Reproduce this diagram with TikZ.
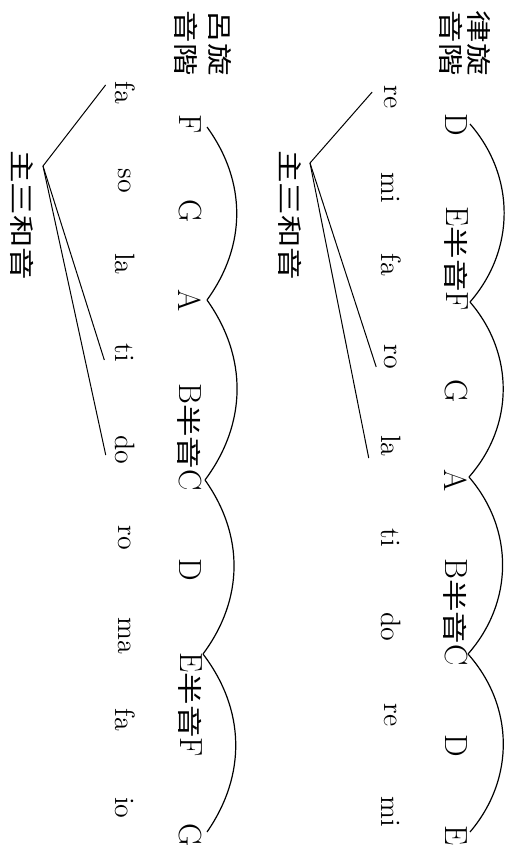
\documentclass[tikz,border=0pt]{standalone}
\usepackage{fontspec}
\usepackage{graphicx}
\usepackage{tikz}
\newfontfamily\cjk{Noto Sans CJK TC}
% wide CJK glyphs, as printed
\newcommand{\hz}[1]{{\cjk\fontsize{12.5}{14}\selectfont\scalebox{1.3}[1]{#1}}}
\tikzset{
    note/.style={rotate=-90, inner sep=1pt, font=\fontsize{16}{18}\selectfont},
    sol/.style={rotate=-90, inner sep=1pt, font=\fontsize{14}{16}\selectfont},
    tag/.style={rotate=-90, align=center, inner sep=1pt, font=\fontsize{12.5}{14}\selectfont},
    bowline/.style={line width=0.6pt},
    tieline/.style={line width=0.5pt}
}

\begin{document}
\begin{tikzpicture}[x=0.5pt,y=-0.5pt]
    \useasboundingbox (0,0) rectangle (508,848);

    % Upper scale
    \node[tag] (utag) at (465,43) {\hz{律旋}\\\hz{音階}};
    \node[note] (uD1) at (456,125) {D};
    \node[note] (uEF) at (456,259) {E\hz{半音}F};
    \node[note] (uG) at (456,391) {G};
    \node[note] (uA) at (456,481) {A};
    \node[note] (uBC) at (456,612) {B\hz{半音}C};
    \node[note] (uD2) at (456,746) {D};
    \node[note] (uE) at (456,836) {E};

    % Upper arcs
    \coordinate (u1) at (470,124);
    \coordinate (u2) at (470,302);
    \coordinate (u3) at (469,477);
    \coordinate (u4) at (468,654);
    \coordinate (u5) at (470,832);
    \foreach \a/\b in {1/2,2/3,3/4,4/5}
        \draw[bowline] (u\a) to[bend left=41] (u\b);

    % Upper syllables
    \foreach \s/\y [count=\i] in {re/97,mi/188,fa/265,ro/357,la/446,ti/538,do/627,re/715,mi/812}
        \node[sol] (us\i) at (391,\y) {\s};

    % Upper triad
    \node[tag] (uchord) at (290,215) {\hz{主三和音}};
    \coordinate (uv) at (310,163);
    \draw[tieline] ([xshift=-5pt,yshift=2.5pt]us1.south) -- (uv) -- ([xshift=-3pt,yshift=-5pt]us4.south);
    \draw[tieline] (uv) -- ([xshift=-5pt,yshift=-6pt]us5.south);

    % Lower scale
    \node[tag] (ltag) at (203,43) {\hz{呂旋}\\[3pt]\hz{音階}};
    \node[note] (lF1) at (190,124) {F};
    \node[note] (lG1) at (190,211) {G};
    \node[note] (lA) at (190,301) {A};
    \node[note] (lBC) at (190,437) {B\hz{半音}C};
    \node[note] (lD) at (190,570) {D};
    \node[note] (lEF) at (190,705) {E\hz{半音}F};
    \node[note] (lG2) at (190,835) {G};

    % Lower arcs
    \coordinate (l1) at (207,127);
    \coordinate (l2) at (207,300);
    \coordinate (l3) at (205,480);
    \coordinate (l4) at (203,654);
    \coordinate (l5) at (207,832);
    \foreach \a/\b in {1/2,2/3,3/4,4/5}
        \draw[bowline] (l\a) to[bend left=36] (l\b);

    % Lower syllables
    \foreach \s/\y [count=\i] in {fa/93,so/181,la/264,ti/353,do/450,ro/538,ma/636,fa/720,io/808}
        \node[sol] (ls\i) at (125,\y) {\s};

    % Lower triad
    \node[tag] (lchord) at (22,215) {\hz{主三和音}};
    \coordinate (lv) at (43,166);
    \draw[tieline] ([xshift=-3.5pt,yshift=4pt]ls1.south) -- (lv) -- ([xshift=-4.5pt,yshift=-3.5pt]ls4.south);
    \draw[tieline] (lv) -- ([xshift=-3.5pt,yshift=-2.5pt]ls5.south);
\end{tikzpicture}
\end{document}
